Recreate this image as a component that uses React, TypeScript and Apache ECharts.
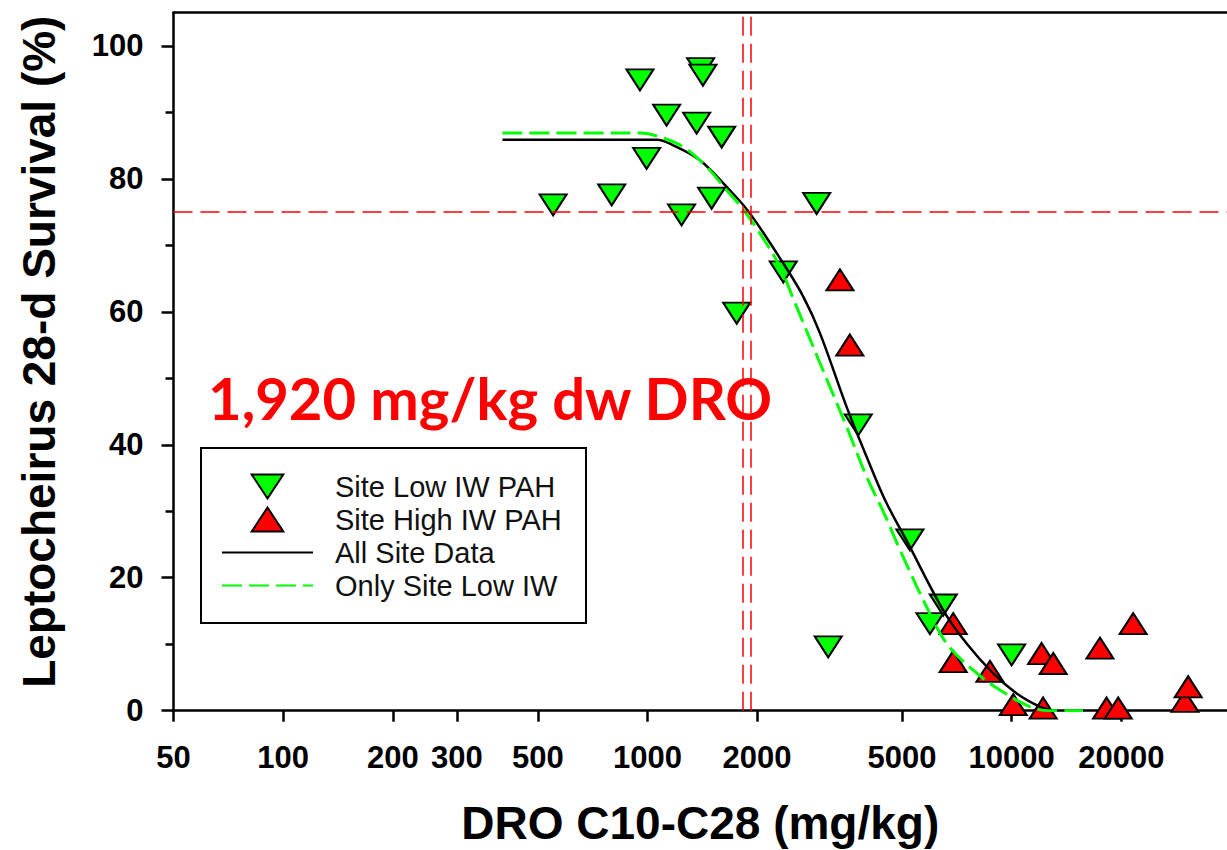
import React, { useEffect, useRef } from 'react';
import * as echarts from 'echarts';

// Axis ticks
const xTickValues = [50, 100, 200, 300, 500, 1000, 2000, 5000, 10000, 20000];
const yTickValues = [0, 20, 40, 60, 80, 100];
const yMinorTickValues = [10, 30, 50, 70, 90];

// Observations: [DRO mg/kg, survival %]
const lowIwPah: [number, number][] = [
  [551, 76.1], [798, 77.6], [954, 94.9], [995, 83.1], [1129, 89.6], [1241, 74.6],
  [1365, 88.4], [1400, 96.6], [1420, 95.6], [1500, 77.1], [1599, 86.3], [1758, 59.8],
  [2360, 66.0], [2915, 76.3], [3136, 9.6], [3791, 43.0], [5255, 25.7], [5966, 13.1],
  [6490, 15.9], [9996, 8.4],
];
const highIwPah: [number, number][] = [
  [3377, 64.8], [3595, 55.0], [6909, 13.1], [6909, 7.4], [8716, 5.9], [10100, 0.9],
  [12080, 8.6], [12200, 0.4], [13000, 7.1], [17470, 9.4], [18220, 0.4], [19610, 0.4],
  [21550, 13.1], [29890, 1.4], [30510, 3.6],
];

// Fitted curves
const allSiteFit: [number, number][] = [
  [400, 85.9], [1060, 85.9], [1203, 84.8], [1394, 82.8], [1650, 78.8], [1900, 75.0],
  [2360, 67.3], [2678, 62.3], [2976, 56.8], [3522, 45.7], [3997, 38.2], [4490, 31.7],
  [5190, 25.2], [6490, 15.1], [7522, 10.1], [8900, 5.6], [10320, 2.6], [11950, 0.6],
  [13000, 0],
];
const lowIwFit: [number, number][] = [
  [400, 86.9], [954, 86.9], [1083, 86.3], [1254, 84.8], [1454, 81.8], [1650, 78.3],
  [1832, 75.4], [2037, 71.8], [2311, 66.8], [2513, 62.0], [2976, 52.3], [3523, 42.7],
  [3997, 35.2], [4480, 29.5], [4934, 24.2], [5842, 15.6], [6630, 10.1], [7839, 6.1],
  [9283, 3.1], [11460, 0.4], [13000, 0], [15690, 0],
];

const ecLines = [1830, 1920];
const survivalThreshold = 75;
const annotation = '1,920 mg/kg dw DRO';

const FONT = "'Liberation Sans', Arial, sans-serif";
const DOWN_TRI = 'path://M0,0 L29,0 L14.5,22 Z';
const UP_TRI = 'path://M14.5,0 L29,22 L0,22 Z';
const HIDDEN = { color: 'rgba(0,0,0,0)', borderColor: 'rgba(0,0,0,0)', borderWidth: 0 };

export default function App() {
  const ref = useRef<HTMLDivElement>(null);
  useEffect(() => {
    if (!ref.current) return;
    const chart = echarts.init(ref.current, undefined, { renderer: 'svg' });
    const redDash = { color: '#ff0000', width: 1.5, type: [19, 8] as any };
    chart.setOption({
      animation: false,
      backgroundColor: '#ffffff',
      grid: { left: 173.5, top: 12.7, right: 0, bottom: 139.3, outerBoundsMode: 'none', containLabel: false },
      xAxis: [
        {
          type: 'log', min: 50, max: 39000, position: 'bottom',
          name: 'DRO C10-C28 (mg/kg)', nameLocation: 'middle', nameGap: 89,
          nameTextStyle: { fontFamily: FONT, fontWeight: 'bold', fontSize: 46, color: '#000' },
          axisLine: { show: true, onZero: false, lineStyle: { color: '#000', width: 2.5 } },
          axisTick: { show: true, customValues: xTickValues, length: 11, inside: false, lineStyle: { color: '#000', width: 2.5 } },
          axisLabel: {
            customValues: xTickValues, margin: 31, fontFamily: FONT, fontWeight: 'bold', fontSize: 31, color: '#000',
            formatter: (v: number) => String(Math.round(v)),
          },
          splitLine: { show: false }, minorTick: { show: false },
        },
        {
          type: 'log', min: 50, max: 39000, position: 'top',
          axisLine: { show: true, onZero: false, lineStyle: { color: '#000', width: 2.5 } },
          axisTick: { show: false }, axisLabel: { show: false }, splitLine: { show: false },
        },
      ],
      yAxis: [
        {
          type: 'value', min: 0, max: 105, position: 'left',
          name: 'Leptocheirus 28-d Survival (%)', nameLocation: 'middle', nameGap: 112, nameRotate: 90,
          nameTextStyle: { fontFamily: FONT, fontWeight: 'bold', fontSize: 46, color: '#000', padding: [0, 0, 0, 20] },
          axisLine: { show: true, onZero: false, lineStyle: { color: '#000', width: 2.5 } },
          axisTick: { show: true, customValues: yTickValues, length: 12, lineStyle: { color: '#000', width: 2.5 } },
          axisLabel: { customValues: yTickValues, margin: 30, fontFamily: FONT, fontWeight: 'bold', fontSize: 31, color: '#000' },
          splitLine: { show: false },
        },
        {
          type: 'value', min: 0, max: 105, position: 'left',
          axisLine: { show: false },
          axisTick: { show: true, customValues: yMinorTickValues, length: 8, lineStyle: { color: '#000', width: 2.5 } },
          axisLabel: { show: false }, splitLine: { show: false },
        },
      ],
      legend: {
        orient: 'vertical', left: 221, top: 472, padding: 0,
        itemWidth: 91, itemHeight: 24, itemGap: 4, selectedMode: false, symbolRotate: 0,
        data: [
          { name: 'Site Low IW PAH', icon: DOWN_TRI },
          { name: 'Site High IW PAH', icon: UP_TRI },
          { name: 'All Site Data', itemStyle: HIDDEN },
          { name: 'Only Site Low IW', itemStyle: HIDDEN },
        ],
        textStyle: { fontFamily: FONT, fontSize: 29, color: '#111', padding: [0, 0, 0, 17] },
      },
      graphic: [
        {
          type: 'rect', shape: { x: 201, y: 448, width: 385, height: 175 },
          style: { fill: 'none', stroke: '#000', lineWidth: 2 }, z: 10,
        },
        {
          type: 'text', x: 208, y: 397, z: 20,
          style: { text: annotation, fill: '#ff0000', font: "bold 58px Lato, 'Open Sans', sans-serif", verticalAlign: 'middle' },
        },
      ],
      series: [
        {
          name: 'Site Low IW PAH', type: 'scatter', data: lowIwPah, z: 2,
          symbol: 'triangle', symbolRotate: 180, symbolSize: [27, 21],
          itemStyle: { color: '#00ff00', borderColor: '#000', borderWidth: 2, opacity: 1 },
        },
        {
          name: 'Site High IW PAH', type: 'scatter', data: highIwPah, z: 2,
          symbol: 'triangle', symbolSize: [27, 21],
          itemStyle: { color: '#ff0000', borderColor: '#000', borderWidth: 2, opacity: 1 },
        },
        {
          name: 'All Site Data', type: 'line', data: allSiteFit, z: 3,
          symbol: 'none', smooth: 0.35,
          lineStyle: { color: '#000', width: 2.5 }, itemStyle: { color: '#000' },
          markLine: {
            silent: true, symbol: ['none', 'none'], label: { show: false },
            lineStyle: redDash,
            data: [
              { xAxis: ecLines[0] },
              { xAxis: ecLines[1] },
              { yAxis: survivalThreshold },
            ],
          },
        },
        {
          name: 'Only Site Low IW', type: 'line', data: lowIwFit, z: 3,
          symbol: 'none', smooth: 0.35,
          lineStyle: { color: '#00ff00', width: 3, type: [20, 7] as any }, itemStyle: { color: '#00ff00' },
        },
      ],
    });
    return () => chart.dispose();
  }, []);
  return <div ref={ref} style={{ position: 'absolute', left: 0, top: 0, width: 1227, height: 850 }} />;
}
